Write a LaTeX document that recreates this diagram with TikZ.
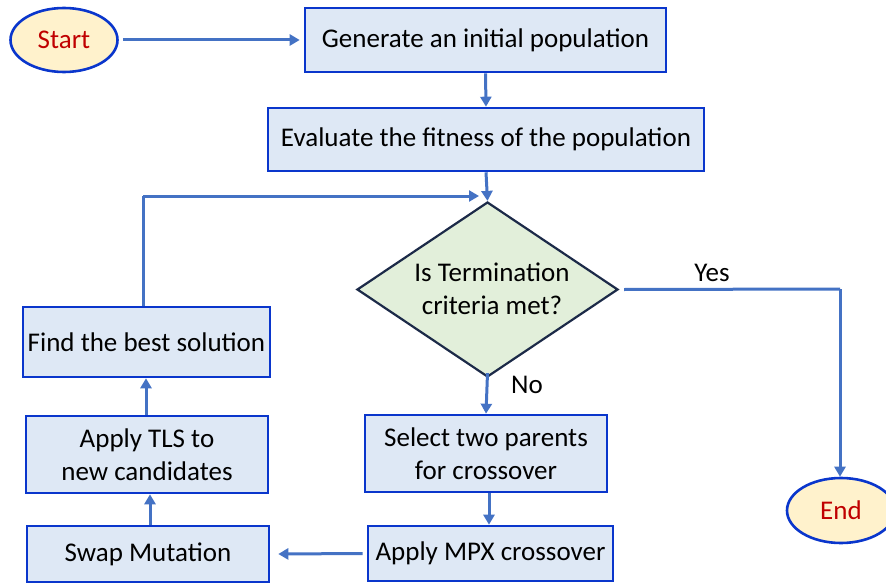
\documentclass[tikz,border=0pt]{standalone}
\usepackage{fontspec}
\setmainfont{Carlito}
\usetikzlibrary{shapes.geometric,arrows.meta}
\definecolor{boxfill}{HTML}{DEE8F5}
\definecolor{boxline}{HTML}{0A36CC}
\definecolor{flow}{HTML}{4472C4}
\definecolor{decfill}{HTML}{E2EFDA}
\definecolor{decline}{HTML}{1C2A48}
\definecolor{termfill}{HTML}{FFF2CC}
\definecolor{termtext}{HTML}{C00000}
\tikzset{
  txt/.style={font=\fontsize{27}{33}\selectfont},
  procbox/.style={txt, draw=boxline, line width=2.6pt, fill=boxfill, inner sep=0pt,
    align=center},
  termnode/.style={txt, ellipse, draw=boxline, line width=2.6pt, fill=termfill,
    inner sep=0pt, text=termtext},
  decnode/.style={diamond, draw=decline, line width=2.2pt, fill=decfill,
    inner sep=0pt},
  flowline/.style={draw=flow, line width=3pt, -{Triangle[length=10pt,width=11pt]}},
  plainflow/.style={draw=flow, line width=3pt}
}
\begin{document}
\begin{tikzpicture}[x=1pt,y=-1pt]
\useasboundingbox (0,0) rectangle (886,583);
\clip (0,0) rectangle (886,583);

% terminals
\node[termnode, minimum width=107pt, minimum height=64pt] (start) at (64,40) {Start};
\node[termnode, minimum width=108pt, minimum height=65pt] (end) at (841,510.5) {End};

% main column
\node[procbox, minimum width=361pt, minimum height=64pt] (gen) at (485.5,40) {Generate an initial population};
\node[procbox, minimum width=436pt, minimum height=63pt] (eval) at (486,139.5) {Evaluate the fitness of the population};
\node[decnode, minimum width=261pt, minimum height=175pt] (term) at (487.5,289.5) {};
\node[txt, align=center] (termtxt) at (492,289) {Is Termination\\criteria met?};
\node[procbox, minimum width=242pt, minimum height=77pt] (sel) at (486,453.5) {Select two parents\\for crossover};
\node[procbox, minimum width=245pt, minimum height=55pt] (mpx) at (490.5,553.5) {Apply MPX crossover};

% left column
\node[procbox, minimum width=242pt, minimum height=56pt] (swap) at (148,554) {Swap Mutation};
\node[procbox, minimum width=242pt, minimum height=77pt] (tls) at (147,454.5) {Apply TLS to\\new candidates};
\node[procbox, minimum width=247pt, minimum height=70pt] (best) at (146.5,342) {Find the best solution};

% bend points of the loop-back and the exit line
\coordinate (loopA) at (143,196);
\coordinate (loopB) at (479,196);
\coordinate (yesA) at (840,289);

% connectors
\draw[flowline] ([xshift=4pt]start.east) -- ([xshift=-4pt]gen.west);
\draw[flowline] (gen.south) -- (eval.north);
\draw[flowline] (eval.south) -- (term.north);
\draw[flowline] ([yshift=5pt]term.south) -- (sel.north);
\draw[flowline] ([xshift=3pt]sel.south) -- ([xshift=-1.5pt]mpx.north);
\draw[flowline] ([xshift=-4pt]mpx.west) -- ([xshift=8pt]swap.east);
\draw[flowline] ([xshift=2pt]swap.north) -- ([xshift=3pt]tls.south);
\draw[flowline] ([xshift=-1pt]tls.north) -- ([xshift=-0.5pt]best.south);
\draw[plainflow] ([xshift=-3.5pt]best.north) -- (loopA);
\draw[flowline] (loopA) -- (loopB);
\draw[plainflow] ([xshift=5pt]term.east) -- (yesA);
\draw[flowline] (yesA) -- (end.north -| yesA);

% branch labels
\node[txt] (yes) at (712,273) {Yes};
\node[txt] (no) at (527,385) {No};
\end{tikzpicture}
\end{document}
